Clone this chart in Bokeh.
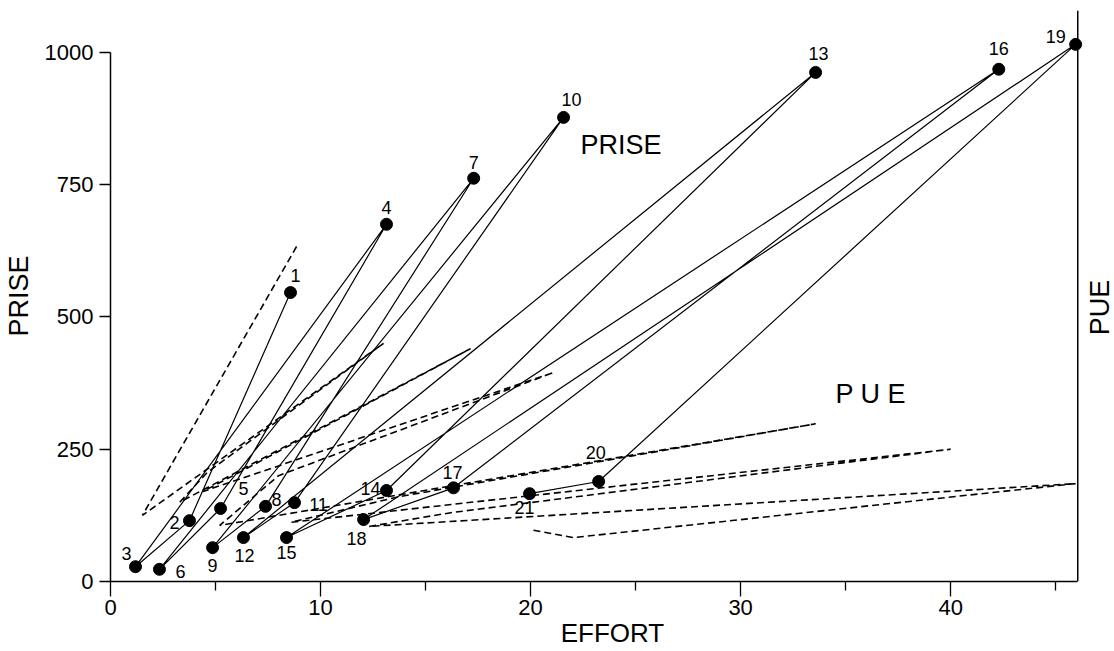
import math
from bokeh.plotting import figure
from bokeh.models import ColumnDataSource, LinearAxis, Range1d, Label, FixedTicker, Span
from bokeh.embed import file_html
from bokeh.resources import INLINE
from bokeh.core.properties import value

# ---- data ----
point_labels = [str(i) for i in range(1, 22)]
effort = [8.57, 3.76, 1.19, 13.14, 5.24, 2.33, 17.29, 7.38, 4.86, 21.57, 8.76,
          6.33, 33.57, 13.14, 8.38, 42.29, 16.33, 12.05, 45.95, 23.24, 19.95]
prise = [546, 115, 28, 675, 138, 23, 762, 142, 64, 877, 149,
         83, 962, 172, 83, 968, 177, 117, 1015, 189, 166]
# PUE curve (dashed), drawn on the same effort axis
pue_effort = [8.86, 3.8, 1.52, 13.0, 4.6, 3.3, 17.14, 6.5, 4.4, 21.1, 8.0,
              5.2, 33.57, 13.7, 8.6, 40.0, 16.2, 12.3, 45.95, 22.05, 20.1]
pue = [633, 283, 125, 450, 206, 150, 440, 214, 170, 395, 200,
       106, 298, 160, 112, 250, 130, 104, 185, 83, 97]
x_ticks = [0, 10, 20, 30, 40]
x_minor = [5, 15, 25, 35, 45]
y_ticks = [0, 250, 500, 750, 1000]
x_axis_end = 46.05   # the PUE axis stands at the end of the effort scale

# label offsets (pixels) for the point numbers
lab_dx = [5, -15, -9, 0, 23, 21, 0, 11, 0, 8, 24, 1, 3, -16, 0, 0, -1, -7, -20, -3, -5]
lab_dy = [-17, 2, -13, -17, -20, 2, -16, -7, 18, -18, 2, 18, -19, -2, 15, -21, -15, 19, -8, -29, 14]

FONT = "Liberation Sans"

p = figure(width=1114, height=651, x_range=Range1d(0, 47.8), y_range=Range1d(0, 1079),
           output_backend="svg", toolbar_location=None,
           min_border_left=110, min_border_right=0, min_border_top=10, min_border_bottom=70,
           x_axis_location=None, y_axis_location=None)
p.outline_line_color = None
p.xgrid.visible = False
p.ygrid.visible = False
p.background_fill_color = "white"
p.border_fill_color = "white"

# left axis
ya = LinearAxis(ticker=FixedTicker(ticks=y_ticks), bounds=(0, 1000), axis_label="PRISE")
ya.major_tick_out = 11
ya.major_tick_in = 0
ya.minor_tick_out = 0
ya.minor_tick_in = 0
ya.axis_line_width = 1.5
ya.major_tick_line_width = 1.3
ya.major_label_standoff = 6
ya.major_label_text_font = FONT
ya.major_label_text_font_size = "22px"
ya.major_label_text_color = "black"
ya.axis_label_text_font = FONT
ya.axis_label_text_font_size = "27px"
ya.axis_label_text_font_style = "normal"
ya.axis_label_text_color = "black"
ya.axis_label_standoff = 8
p.add_layout(ya, "left")

# bottom axis
xa = LinearAxis(ticker=FixedTicker(ticks=x_ticks, minor_ticks=x_minor), axis_label="EFFORT",
                bounds=(0, x_axis_end))
xa.major_tick_out = 15
xa.major_tick_in = 0
xa.minor_tick_out = 9
xa.minor_tick_in = 0
xa.axis_line_width = 1.5
xa.major_tick_line_width = 1.3
xa.minor_tick_line_width = 1.3
xa.major_label_standoff = 3
xa.major_label_text_font = FONT
xa.major_label_text_font_size = "22px"
xa.major_label_text_color = "black"
xa.axis_label_text_font = FONT
xa.axis_label_text_font_size = "26px"
xa.axis_label_text_font_style = "normal"
xa.axis_label_text_color = "black"
xa.axis_label_standoff = 0
p.add_layout(xa, "below")

# right-hand PUE axis line (no ticks)
p.add_layout(Span(location=x_axis_end, dimension="height", line_color="black", line_width=1.5))
p.add_layout(Label(x=47.1, y=518, text="PUE", text_font=FONT, text_font_size="27px",
                   angle=math.pi / 2, text_align="center", text_baseline="middle",
                   text_color="black"))

# PUE dashed line
p.line(pue_effort, pue, line_color="black", line_width=1.6, line_dash="7 4")

# PRISE solid polyline
src = ColumnDataSource(dict(x=effort, y=prise, t=point_labels, dx=lab_dx, dy=lab_dy))
p.line("x", "y", source=src, line_color="black", line_width=1.2)
p.scatter("x", "y", source=src, size=12, color="black")
p.text("x", "y", text="t", x_offset="dx", y_offset="dy", source=src,
       text_font=value(FONT), text_font_size="18px", text_align="center",
       text_baseline="middle", text_color="black")

# in-plot annotations
p.add_layout(Label(x=24.3, y=824, text="PRISE", text_font=FONT, text_font_size="27px",
                   text_align="center", text_baseline="middle", text_color="black"))
p.add_layout(Label(x=36.2, y=355, text="P U E", text_font=FONT, text_font_size="27px",
                   text_align="center", text_baseline="middle", text_color="black"))

open("out.html", "w").write(file_html(p, INLINE))
